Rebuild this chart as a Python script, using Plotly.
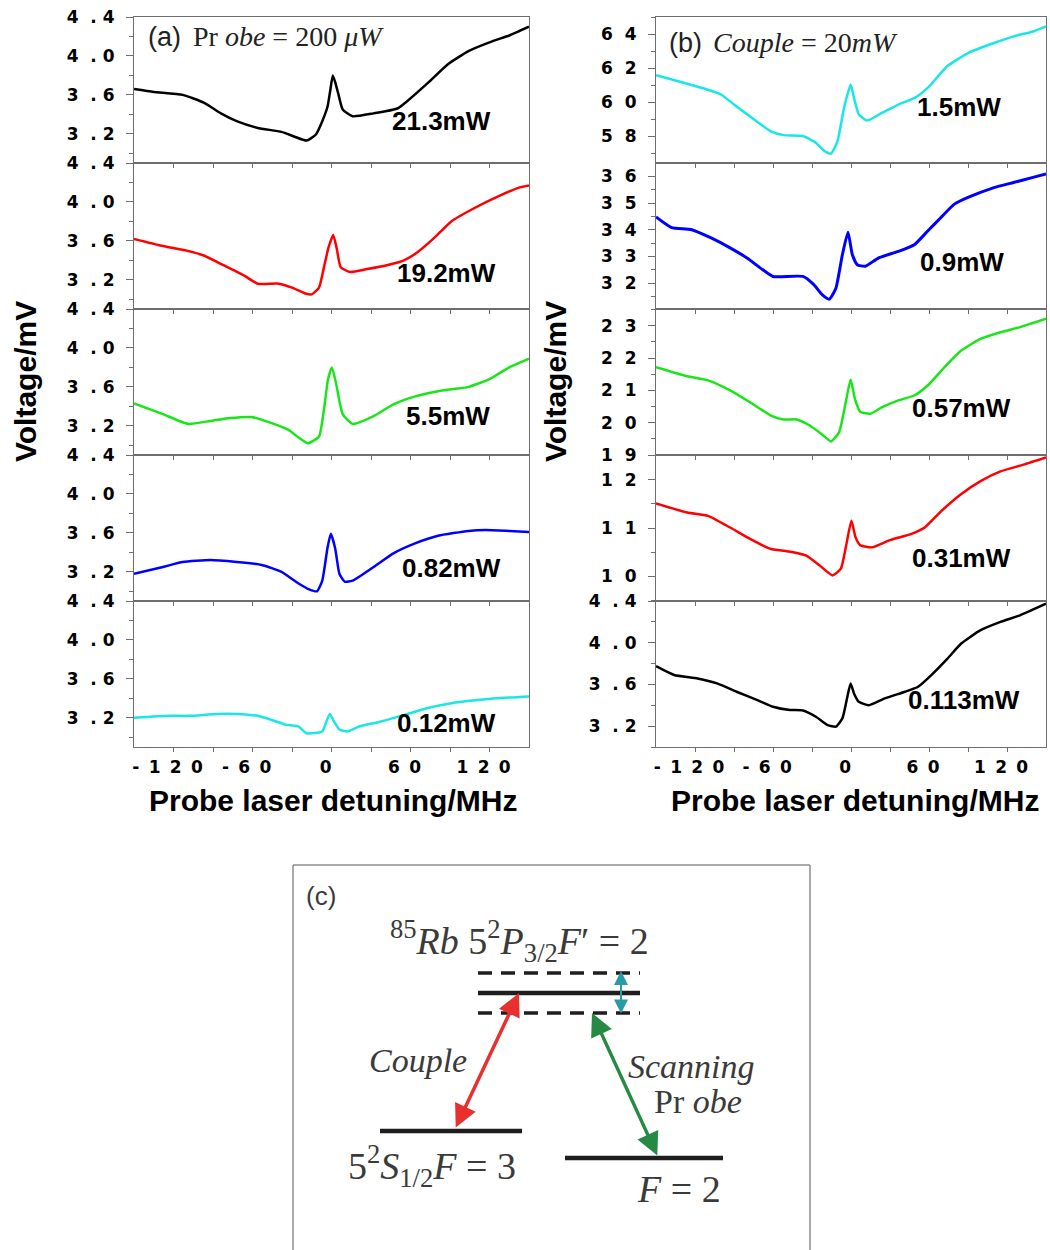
import plotly.graph_objects as go

# ---------------- data ----------------
# (a) Probe = 200 uW, different couple powers
a1_x = [-150, -135, -113, -97, -84, -72, -56, -38, -28, -19, -12, -7, -3, -1, 1, 3, 5, 8.5, 16, 32, 50, 57, 73, 88, 104, 122, 135, 150]
a1_y = [3.66, 3.63, 3.60, 3.52, 3.41, 3.33, 3.26, 3.22, 3.17, 3.13, 3.19, 3.33, 3.48, 3.64, 3.80, 3.72, 3.62, 3.45, 3.38, 3.41, 3.46, 3.53, 3.72, 3.91, 4.05, 4.15, 4.21, 4.30]

a2_x = [-150, -129, -110, -97, -82, -66, -56, -40, -30, -20, -15, -9.5, -5.7, -2.3, 1.3, 4, 7, 14, 27, 42, 55, 65, 78, 91, 109, 127, 143, 150]
a2_y = [3.62, 3.55, 3.50, 3.45, 3.35, 3.24, 3.16, 3.16, 3.12, 3.06, 3.05, 3.12, 3.33, 3.53, 3.66, 3.52, 3.33, 3.28, 3.31, 3.35, 3.40, 3.48, 3.63, 3.80, 3.94, 4.06, 4.15, 4.17]

a3_x = [-150, -128, -109, -92, -77, -61, -46, -33, -25, -18, -9.5, -5.7, -2.6, 0.3, 3.4, 8.5, 16, 32, 47, 63, 83, 104, 120, 135, 150]
a3_y = [3.43, 3.32, 3.22, 3.25, 3.28, 3.29, 3.23, 3.16, 3.08, 3.02, 3.09, 3.37, 3.68, 3.80, 3.64, 3.32, 3.22, 3.30, 3.42, 3.50, 3.56, 3.60, 3.68, 3.80, 3.89]

a4_x = [-150, -128, -113, -92, -72, -53, -38, -25, -17, -11, -7, -3, -0.5, 2.8, 6, 10, 16, 32, 47, 63, 81, 104, 117, 135, 150]
a4_y = [3.18, 3.25, 3.30, 3.32, 3.30, 3.27, 3.20, 3.08, 3.02, 3.00, 3.11, 3.45, 3.59, 3.44, 3.18, 3.10, 3.11, 3.25, 3.39, 3.49, 3.57, 3.62, 3.63, 3.62, 3.61]

a5_x = [-150, -123, -108, -87, -72, -56, -46, -35, -25, -19, -7, -3.9, -1.3, 2, 6, 12, 21, 37, 58, 73, 91, 109, 125, 150]
a5_y = [3.20, 3.22, 3.22, 3.24, 3.24, 3.22, 3.18, 3.13, 3.11, 3.04, 3.06, 3.16, 3.24, 3.16, 3.08, 3.06, 3.11, 3.16, 3.24, 3.30, 3.35, 3.38, 3.40, 3.42]

a_labels = ["21.3mW", "19.2mW", "5.5mW", "0.82mW", "0.12mW"]

# (b) Couple = 20 mW, different probe powers
b1_x = [-150, -128, -113, -100, -90, -78, -62, -52, -37, -27, -20.5, -15.4, -10.4, -5.3, -0.3, 2.3, 6, 12.4, 24, 36.5, 49, 59, 74, 90, 110, 125, 140, 150]
b1_y = [61.6, 61.15, 60.82, 60.47, 59.88, 59.2, 58.32, 58.08, 58.03, 57.63, 57.15, 56.99, 57.73, 59.69, 61.06, 60.27, 59.3, 58.94, 59.4, 59.88, 60.27, 60.86, 62.13, 62.91, 63.5, 63.89, 64.18, 64.48]

b2_x = [-150, -138, -123, -108, -93, -80, -67, -60, -37, -29, -22, -16.7, -11.6, -6.6, -2.3, 1, 4.8, 11, 21, 36.5, 49, 59, 69, 79.5, 90, 110, 125, 140, 150]
b2_y = [34.48, 34.08, 34.01, 33.70, 33.32, 32.94, 32.47, 32.25, 32.25, 31.96, 31.56, 31.40, 31.81, 33.07, 33.91, 33.07, 32.69, 32.63, 32.94, 33.19, 33.45, 33.95, 34.45, 34.96, 35.21, 35.58, 35.77, 35.96, 36.09]

b3_x = [-150, -126, -110, -93, -78, -62, -52, -42, -32, -22, -15.4, -9.1, -4, -0.3, 3, 7.3, 15, 24, 36.5, 49, 59, 72, 85, 100, 115, 130, 150]
b3_y = [21.72, 21.44, 21.31, 21.0, 20.64, 20.23, 20.10, 20.10, 19.92, 19.63, 19.42, 19.71, 20.64, 21.34, 20.74, 20.33, 20.28, 20.48, 20.69, 20.85, 21.15, 21.72, 22.24, 22.6, 22.8, 22.96, 23.22]

b4_x = [-150, -126, -110, -93, -78, -62, -44.5, -34.4, -24.3, -14.2, -7.8, -4, 0.3, 3.5, 7.3, 16.2, 29, 46.6, 56.7, 69.4, 84.6, 99.7, 115, 132.7, 150]
b4_y = [11.51, 11.32, 11.25, 11.01, 10.78, 10.57, 10.50, 10.43, 10.23, 10.02, 10.16, 10.60, 11.15, 10.81, 10.64, 10.60, 10.74, 10.88, 11.01, 11.35, 11.70, 11.97, 12.17, 12.31, 12.46]

b5_x = [-150, -136, -118, -103, -88, -72, -60, -47, -37, -27, -18, -11.6, -6.6, -2.8, -0.3, 2.3, 6, 13.7, 26, 41.5, 51.6, 61.8, 74.4, 84.6, 99.7, 115, 130, 150]
b5_y = [3.775, 3.69, 3.657, 3.61, 3.53, 3.45, 3.386, 3.355, 3.35, 3.29, 3.21, 3.195, 3.275, 3.482, 3.61, 3.514, 3.434, 3.40, 3.466, 3.53, 3.578, 3.69, 3.85, 3.99, 4.12, 4.20, 4.263, 4.374]

b_labels = ["1.5mW", "0.9mW", "0.57mW", "0.31mW", "0.113mW"]

# axis ticks
x_range = [-150, 150]
x_tickvals = [-120, -90, -60, -30, 0, 30, 60, 90, 120]
x_ticktext = ["- 1 2 0", "", "- 6 0", "", "0", "", "6 0", "", "1 2 0"]

a_yrange = [2.9, 4.4]
a_ytickvals = [3.2, 3.6, 4.0, 4.4]
a_yticktext = ["3 . 2", "3 . 6", "4 . 0", "4 . 4"]
a_yminor = [3.0, 3.4, 3.8, 4.2]

b_yranges = [[56.44, 65.03], [31.03, 36.5], [19.0, 23.52], [9.49, 12.51], [3.0, 4.4]]
b_ytickvals = [[58, 60, 62, 64], [31, 32, 33, 34, 35, 36], [19, 20, 21, 22, 23], [10, 11, 12], [3.2, 3.6, 4.0, 4.4]]
b_yticktext = [["5 8", "6 0", "6 2", "6 4"], ["3 1", "3 2", "3 3", "3 4", "3 5", "3 6"],
               ["1 9", "2 0", "2 1", "2 2", "2 3"], ["1 0", "1 1", "1 2"], ["3 . 2", "3 . 6", "4 . 0", "4 . 4"]]
b_yminor = [[57, 59, 61, 63, 65], [31.5, 32.5, 33.5, 34.5, 35.5], [19.5, 20.5, 21.5, 22.5, 23.5],
            [9.5, 10.5, 11.5, 12.5], [3.0, 3.4, 3.8, 4.2]]

colors_a = ["#000000", "#ff0000", "#19e619", "#0000ff", "#19e6e6"]
colors_b = ["#19e6e6", "#0000ff", "#19e619", "#ff0000", "#000000"]

# ---------------- layout helpers ----------------
W, H = 1050, 1250
def px(x): return x / W
def py(y): return 1 - y / H

NB = "\u00a0"
THIN = "\u2009"
def spaced_ytick(s):
    # wide, letter-spaced tick labels like the original ("4 . 4", "6 4")
    s = s.replace(" . ", NB * 2 + "." + NB)
    return s.replace(" ", NB * 2)

def spaced_xtick(s):
    return s.replace(" ", NB + THIN) + NB * 2

SANS = "Arial, Liberation Sans, sans-serif"
TICKFAM = "DejaVu Sans, Verdana, sans-serif"
SERIF = "Times New Roman, Liberation Serif, serif"
AXC = "#6e6e6e"

COLS = [(134, 529), (656, 1046)]
ROWS = [17, 163, 309, 455, 601, 747]

a_series = [(a1_x, a1_y), (a2_x, a2_y), (a3_x, a3_y), (a4_x, a4_y), (a5_x, a5_y)]
b_series = [(b1_x, b1_y), (b2_x, b2_y), (b3_x, b3_y), (b4_x, b4_y), (b5_x, b5_y)]

a_label_pos = [(441, 121), (446, 273), (448, 416), (451, 568), (446, 723)]
b_label_pos = [(959, 107), (962, 262), (961, 408), (961, 558), (964, 700)]

fig = go.Figure()
layout = dict(width=W, height=H, margin=dict(l=0, r=0, t=0, b=0, autoexpand=False),
              paper_bgcolor="white", plot_bgcolor="white", showlegend=False)
annotations = []
shapes = []

TICKFONT = dict(family=TICKFAM, size=17, color="black")

k = 0
for col in range(2):
    for row in range(5):
        k += 1
        xs, ys = (a_series if col == 0 else b_series)[row]
        color = (colors_a if col == 0 else colors_b)[row]
        xn = "x" if k == 1 else f"x{k}"
        yn = "y" if k == 1 else f"y{k}"
        fig.add_trace(go.Scatter(x=xs, y=ys, mode="lines", xaxis=xn, yaxis=yn,
                                 line=dict(color=color, width=3 if (col == 1 and row == 1) else 2.5,
                                           shape="spline", smoothing=0.5),
                                 hoverinfo="skip"))
        x0, x1 = COLS[col]
        top, bot = ROWS[row], ROWS[row + 1]
        bottom_panel = row == 4
        layout["xaxis" if k == 1 else f"xaxis{k}"] = dict(
            domain=[px(x0), px(x1)], range=x_range, anchor=yn,
            tickmode="array", tickvals=x_tickvals, tickangle=0, automargin=False,
            ticktext=["<b>" + spaced_xtick(t) + "</b>" if t else "" for t in x_ticktext],
            showticklabels=bottom_panel, ticks="outside", ticklen=4, tickwidth=1.2, tickcolor=AXC,
            showline=True, linecolor=AXC, linewidth=1.2, mirror=True,
            showgrid=False, zeroline=False, tickfont=TICKFONT)
        if col == 0:
            yr, tv, tt, mn = a_yrange, a_ytickvals, a_yticktext, a_yminor
        else:
            yr, tv, tt, mn = b_yranges[row], b_ytickvals[row], b_yticktext[row], b_yminor[row]
        layout["yaxis" if k == 1 else f"yaxis{k}"] = dict(
            domain=[py(bot), py(top)], range=yr, anchor=xn, automargin=False,
            tickmode="array", tickvals=tv, ticktext=["<b>" + spaced_ytick(t) + "</b>" for t in tt],
            ticks="outside", ticklen=7, tickwidth=1.2, tickcolor=AXC,
            minor=dict(tickmode="array", tickvals=mn, ticks="outside", ticklen=3.5, tickcolor=AXC, tickwidth=1.2),
            showline=True, linecolor=AXC, linewidth=1.2, mirror=True,
            showgrid=False, zeroline=False, ticklabelstandoff=8, tickfont=TICKFONT)
        lx, ly = (a_label_pos if col == 0 else b_label_pos)[row]
        lab = (a_labels if col == 0 else b_labels)[row]
        annotations.append(dict(x=px(lx), y=py(ly), xref="paper", yref="paper", text=f"<b>{lab}</b>",
                                showarrow=False, xanchor="center", yanchor="middle",
                                font=dict(family=SANS, size=26, color="black")))

# axis titles
for cx in (25, 555):
    annotations.append(dict(x=px(cx), y=py(382), xref="paper", yref="paper", text="<b>Voltage/mV</b>",
                            textangle=-90, showarrow=False, xanchor="center", yanchor="middle",
                            font=dict(family=SANS, size=30, color="black")))
for cx in (333, 855):
    annotations.append(dict(x=px(cx), y=py(800), xref="paper", yref="paper",
                            text="<b>Probe laser detuning/MHz</b>",
                            showarrow=False, xanchor="center", yanchor="middle",
                            font=dict(family=SANS, size=30, color="black")))

# panel titles
annotations.append(dict(x=px(146), y=py(37), xref="paper", yref="paper", text="(a)", showarrow=False,
                        xanchor="left", yanchor="middle", font=dict(family=SANS, size=27, color="#222")))
annotations.append(dict(x=px(191), y=py(37), xref="paper", yref="paper",
                        text="Pr <i>obe</i> = 200 <i>\u03bcW</i>", showarrow=False,
                        xanchor="left", yanchor="middle", font=dict(family=SERIF, size=28, color="#222")))
annotations.append(dict(x=px(667), y=py(43), xref="paper", yref="paper", text="(b)", showarrow=False,
                        xanchor="left", yanchor="middle", font=dict(family=SANS, size=27, color="#222")))
annotations.append(dict(x=px(711), y=py(43), xref="paper", yref="paper",
                        text="<i>Couple</i> = 20<i>mW</i>", showarrow=False,
                        xanchor="left", yanchor="middle", font=dict(family=SERIF, size=28, color="#222")))

# ---------------- panel (c): energy-level diagram ----------------
BOXC = "#8c8c8c"
for (xa, ya, xb, yb) in [(293, 865, 293, 1250), (293, 865, 810, 865), (810, 865, 810, 1250)]:
    shapes.append(dict(type="line", xref="paper", yref="paper", x0=px(xa), y0=py(ya), x1=px(xb), y1=py(yb),
                       line=dict(color=BOXC, width=1.5)))
LEV = "#1e1e1e"
# upper level (solid) and light-shifted dashed levels
shapes.append(dict(type="line", xref="paper", yref="paper", x0=px(478), y0=py(993), x1=px(640), y1=py(993),
                   line=dict(color=LEV, width=4.5)))
for yy in (973, 1013):
    shapes.append(dict(type="line", xref="paper", yref="paper", x0=px(478), y0=py(yy), x1=px(640), y1=py(yy),
                       line=dict(color=LEV, width=3.5, dash="14px,9px")))
# ground levels
shapes.append(dict(type="line", xref="paper", yref="paper", x0=px(380), y0=py(1131), x1=px(522), y1=py(1131),
                   line=dict(color=LEV, width=4.5)))
shapes.append(dict(type="line", xref="paper", yref="paper", x0=px(565), y0=py(1158), x1=px(723), y1=py(1158),
                   line=dict(color=LEV, width=4.5)))

def double_arrow(hx, hy, tx, ty, color, width, size):
    return dict(x=px(hx), y=py(hy), xref="paper", yref="paper", ax=tx - hx, ay=ty - hy,
                axref="pixel", ayref="pixel", text="", showarrow=True, arrowhead=2, startarrowhead=2,
                arrowside="end+start", arrowcolor=color, arrowwidth=width, arrowsize=size,
                startarrowsize=size, standoff=0, startstandoff=0)

annotations.append(double_arrow(519, 993, 455, 1129, "#e8302f", 3.5, 1.3))
annotations.append(double_arrow(592, 1013, 658, 1157, "#268a45", 3.5, 1.3))
annotations.append(double_arrow(621, 971, 621, 1015, "#2a9aa8", 2, 1.4))

TXT = "#3a3a3a"
annotations.append(dict(x=px(321), y=py(896), xref="paper", yref="paper", text="(c)", showarrow=False,
                        xanchor="center", yanchor="middle", font=dict(family=SANS, size=26, color=TXT)))
annotations.append(dict(x=px(519), y=py(941), xref="paper", yref="paper",
                        text="<sup>85</sup><i>Rb</i> 5<sup>2</sup><i>P</i><sub>3/2</sub><i>F</i>\u2032 = 2",
                        showarrow=False, xanchor="center", yanchor="middle",
                        font=dict(family=SERIF, size=38, color=TXT)))
annotations.append(dict(x=px(418), y=py(1060), xref="paper", yref="paper", text="<i>Couple</i>",
                        showarrow=False, xanchor="center", yanchor="middle",
                        font=dict(family=SERIF, size=34, color=TXT)))
annotations.append(dict(x=px(692), y=py(1066), xref="paper", yref="paper", text="<i>Scanning</i>",
                        showarrow=False, xanchor="center", yanchor="middle",
                        font=dict(family=SERIF, size=34, color=TXT)))
annotations.append(dict(x=px(698), y=py(1101), xref="paper", yref="paper", text="Pr <i>obe</i>",
                        showarrow=False, xanchor="center", yanchor="middle",
                        font=dict(family=SERIF, size=34, color=TXT)))
annotations.append(dict(x=px(432), y=py(1166), xref="paper", yref="paper",
                        text="5<sup>2</sup><i>S</i><sub>1/2</sub><i>F</i> = 3",
                        showarrow=False, xanchor="center", yanchor="middle",
                        font=dict(family=SERIF, size=38, color=TXT)))
annotations.append(dict(x=px(679), y=py(1189), xref="paper", yref="paper", text="<i>F</i> = 2",
                        showarrow=False, xanchor="center", yanchor="middle",
                        font=dict(family=SERIF, size=38, color=TXT)))

layout["annotations"] = annotations
layout["shapes"] = shapes
fig.update_layout(**layout)
fig.write_html("out.html")
